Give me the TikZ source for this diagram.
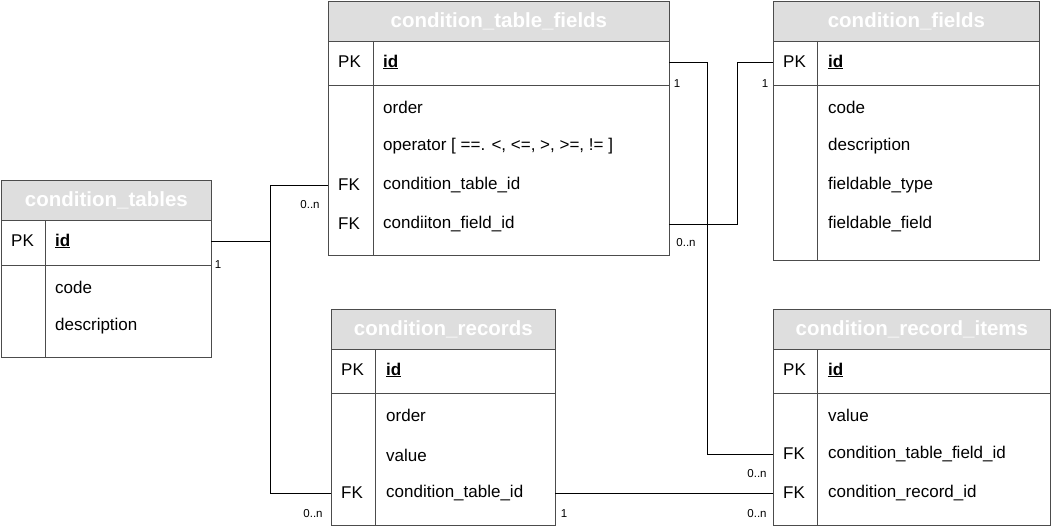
\documentclass[tikz,border=0pt]{standalone}
\usepackage{fontspec}
\setmainfont{Liberation Sans}
\begin{document}
\begin{tikzpicture}[x=1pt,y=-1pt,
  tbl/.style={draw=black!70,line width=0.8pt,fill=white,anchor=north west,inner sep=0,outer sep=0},
  hdr/.style={fill=black!13,draw=black!70,line width=0.8pt,anchor=north west,inner sep=0,text=white,font=\fontsize{20.5}{22}\selectfont\bfseries},
  txt/.style={anchor=west,inner sep=0,font=\fontsize{17}{19}\selectfont},
  lbl/.style={anchor=center,inner sep=0,font=\fontsize{11.5}{13}\selectfont},
  conn/.style={draw=black,line width=0.9pt}]
\useasboundingbox (0,0) rectangle (1052,527);
\newcommand{\mytable}[9]{% name,x1,y1,x2,y2,pky,coldiv,title,-
  \node[tbl,minimum width=#4-#2,minimum height=#5-#3] (#1) at (#2,#3) {};
  \node[hdr,minimum width=#4-#2,minimum height=40] (#1h) at (#2,#3) {#8};
  \draw[black!70,line width=0.8pt] (#2,#6) -- (#4,#6);
  \draw[black!70,line width=0.8pt] (#7,#3+40) -- (#7,#5);
}
\mytable{ctf}{328}{1}{669}{255}{85}{373}{condition\_table\_fields}{}
\mytable{cf}{773}{1}{1039}{260}{85}{817}{condition\_fields}{}
\mytable{ct}{1}{180}{211}{357}{265}{45}{condition\_tables}{}
\mytable{cr}{331}{309}{555}{525}{393}{375}{condition\_records}{}
\mytable{cri}{773}{309}{1050}{525}{393}{817}{condition\_record\_items}{}
% ctf
\node[txt] (ctfpk) at (338,62) {PK};
\node[txt] (ctfid) at (383,62) {\textbf{\underline{id}}};
\node[txt] (ctf1) at (383,107) {order};
\node[txt] (ctf2) at (383,146) {operator [ ==. <, <=, >, >=, != ]};
\node[txt] (ctffk1) at (338,185) {FK};
\node[txt] (ctf3) at (383,185) {condition\_table\_id};
\node[txt] (ctffk2) at (338,224) {FK};
\node[txt] (ctf4) at (383,224) {condiiton\_field\_id};
% cf
\node[txt] (cfpk) at (783,62) {PK};
\node[txt] (cfid) at (828,62) {\textbf{\underline{id}}};
\node[txt] (cf1) at (828,107) {code};
\node[txt] (cf2) at (828,146) {description};
\node[txt] (cf3) at (828,185) {fieldable\_type};
\node[txt] (cf4) at (828,224) {fieldable\_field};
% ct
\node[txt] (ctpk) at (11,241) {PK};
\node[txt] (ctid) at (55,241) {\textbf{\underline{id}}};
\node[txt] (ct1) at (55,287) {code};
\node[txt] (ct2) at (55,326) {description};
% cr
\node[txt] (crpk) at (341,370) {PK};
\node[txt] (crid) at (386,370) {\textbf{\underline{id}}};
\node[txt] (cr1) at (386,415) {order};
\node[txt] (cr2) at (386,455) {value};
\node[txt] (crfk) at (341,493) {FK};
\node[txt] (cr3) at (386,493) {condition\_table\_id};
% cri
\node[txt] (cripk) at (783,370) {PK};
\node[txt] (criid) at (828,370) {\textbf{\underline{id}}};
\node[txt] (cri1) at (828,415) {value};
\node[txt] (crifk1) at (783,454) {FK};
\node[txt] (cri2) at (828,454) {condition\_table\_field\_id};
\node[txt] (crifk2) at (783,493) {FK};
\node[txt] (cri3) at (828,493) {condition\_record\_id};
% connectors
\coordinate (j1) at (270,241);
\draw[conn] (ct.east |- ctid) -- (j1) |- (ctf.west |- ctf3);
\draw[conn] (j1) |- (cr.west |- cr3);
\draw[conn] (ctf.east |- ctfid) -- (707,62) |- (cri.west |- cri2);
\draw[conn] (ctf.east |- ctf4) -- (737,224) |- (cf.west |- cfid);
\draw[conn] (cr.east |- cr3) -- (cri.west |- cri3);
% labels
\node[lbl] (l1) at (218,265) {1};
\node[lbl] (l2) at (310,205) {0..n};
\node[lbl] (l3) at (313,514) {0..n};
\node[lbl] (l4) at (677,84) {1};
\node[lbl] (l5) at (757,474) {0..n};
\node[lbl] (l6) at (686,243) {0..n};
\node[lbl] (l7) at (765,84) {1};
\node[lbl] (l8) at (564,514) {1};
\node[lbl] (l9) at (757,514) {0..n};
\end{tikzpicture}
\end{document}
